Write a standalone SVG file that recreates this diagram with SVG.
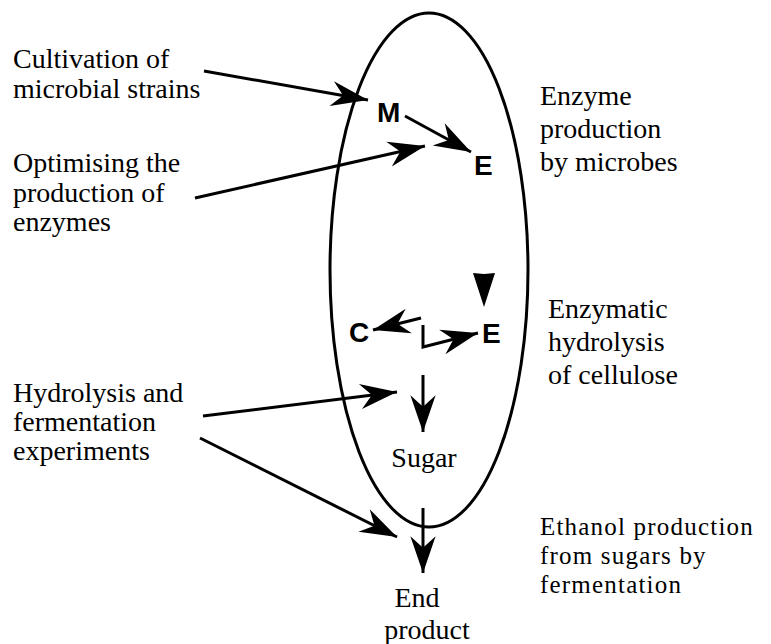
<svg xmlns="http://www.w3.org/2000/svg" width="771" height="644" viewBox="0 0 771 644">
<style>
.lbl{font-family:"Liberation Serif","Times New Roman",serif;font-size:28px;fill:#000}
.sm{font-size:25px;letter-spacing:1.2px}
.ltr{font-family:"Liberation Sans",Arial,sans-serif;font-size:28px;font-weight:bold;fill:#000}
.ln{fill:none;stroke:#000;stroke-width:3}
</style>
<defs>
<marker id="ah" markerUnits="userSpaceOnUse" markerWidth="40" markerHeight="30" viewBox="-36 -13 38 26" refX="0" refY="0" orient="auto">
<path d="M0,0 L-35,-12 L-24,0 L-35,12 Z" fill="#000"/>
</marker>
</defs>
<rect width="771" height="644" fill="#fff"/>
<g id="boundary">
<ellipse cx="429" cy="270" rx="99" ry="257" fill="none" stroke="#000" stroke-width="3"/>
</g>
<g id="node-cultivation"><text class="lbl" x="13" y="68">Cultivation of</text><text class="lbl" x="13" y="98">microbial strains</text></g>
<g id="node-optimising"><text class="lbl" x="13" y="172">Optimising the</text><text class="lbl" x="13" y="202">production of</text><text class="lbl" x="13" y="231">enzymes</text></g>
<g id="node-hydrolysis"><text class="lbl" x="13" y="402">Hydrolysis and</text><text class="lbl" x="13" y="431">fermentation</text><text class="lbl" x="13" y="460">experiments</text></g>
<g id="node-enzyme-production"><text class="lbl" x="540" y="105">Enzyme</text><text class="lbl" x="540" y="138">production</text><text class="lbl" x="540" y="171">by microbes</text></g>
<g id="node-enzymatic"><text class="lbl" x="548" y="318">Enzymatic</text><text class="lbl" x="548" y="351">hydrolysis</text><text class="lbl" x="548" y="384">of cellulose</text></g>
<g id="node-ethanol"><text class="lbl sm" x="540" y="535">Ethanol production</text><text class="lbl sm" x="540" y="564">from sugars by</text><text class="lbl sm" x="540" y="593">fermentation</text></g>
<g id="node-M"><text class="ltr" x="377" y="122">M</text></g>
<g id="node-E1"><text class="ltr" x="474" y="175">E</text></g>
<g id="node-C"><text class="ltr" x="349" y="342">C</text></g>
<g id="node-E2"><text class="ltr" x="482" y="343">E</text></g>
<g id="node-sugar"><text class="lbl" x="424" y="467" text-anchor="middle">Sugar</text></g>
<g id="node-end"><text class="lbl" x="417" y="607" text-anchor="middle">End</text><text class="lbl" x="427" y="639" text-anchor="middle">product</text></g>
<g id="connectors">
<line class="ln" x1="204" y1="71" x2="368" y2="100" marker-end="url(#ah)"/>
<line class="ln" x1="195" y1="198" x2="425" y2="146" marker-end="url(#ah)"/>
<line class="ln" x1="405" y1="116" x2="471" y2="152" marker-end="url(#ah)"/>
<path d="M484,274 L495,273 L484,307 L473,273 Z" fill="#000"/>
<line class="ln" x1="421" y1="318" x2="373" y2="330" marker-end="url(#ah)"/>
<polyline class="ln" points="423,325 423,347 478,333" marker-end="url(#ah)"/>
<line class="ln" x1="423" y1="375" x2="423" y2="432" marker-end="url(#ah)"/>
<line class="ln" x1="203" y1="416" x2="397" y2="392" marker-end="url(#ah)"/>
<line class="ln" x1="200" y1="438" x2="397" y2="537" marker-end="url(#ah)"/>
<line class="ln" x1="423" y1="508" x2="423" y2="573" marker-end="url(#ah)"/>
</g>
</svg>
